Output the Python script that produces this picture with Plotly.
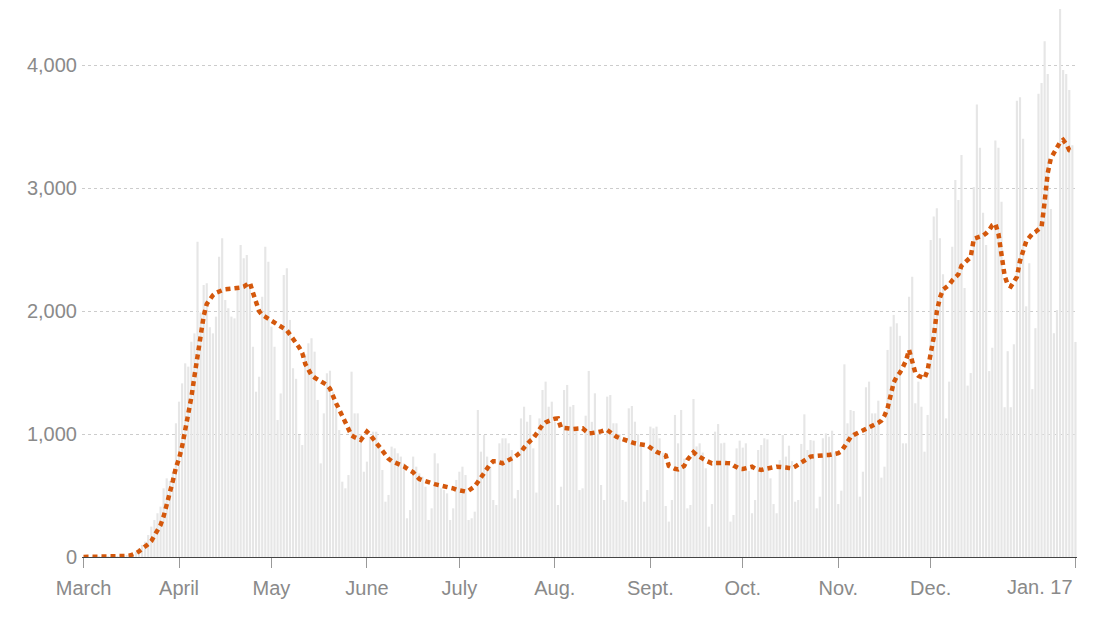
import pandas as pd
import plotly.graph_objects as go

# Daily values (bars), one list per month
mar = [0,1,0,1,2,1,3,3,4,4,6,8,10,8,10, 18,24,43,73,98,125,179,247,301,356,410,559,640,620,694,1088]
apr = [1264,1413,1576,1549,1752,1820,2566,1990,2213,2227, 1870,1820,1956,2444,2594,2091,2024,1956,1942,2186,
       2539,2431,2458,2200,1711,1345,1467,2118,2525,2403]
may = [1875,1711,1115,1331,2295,2350,1929,1536,1450,993, 911,1650,1739,1780,1671,1278,762,1169,1495,1516,
       1345,1210,1033,613,559,667,1508,1169,1169,1000, 694]
jun = [776,979,1020,1020,920,708,450,505,898,884, 844,817,762,315,382,817,735,681,654,572,
       301,396,844,762,559,545,518,301,396,627]
jul = [694,735,667,301,315,369,1196,857,993,817, 735,464,423,925,966,966,925,871,477,545,
       1128,1223,1101,1156,884,524,1128,1359,1427,1223, 1264]
aug = [1100,423,572,1359,1400,1223,1237,1050,545,559, 1150,1514,1100,1332,1000,586,464,1305,1318,1088,
       1088,1000,464,450,1210,1229,1101,1000,898,450, 545]
sep = [1061,1047,1061,966,850,415,288,464,1156,925, 1196,800,396,423,1286,900,925,850,722,247,
       431,1020,1082,925,930,750,288,342,884,947]
octo = [890,925,700,356,464,871,911,966,957,640, 431,356,789,993,817,906,780,450,464,920,
        1161,871,952,947,396,491,966,1006,979,1028, 850]
nov = [431,540,1568,1088,1196,1188,1000,491,694,1381, 1427,1169,1169,1272,646,735,1685,1875,1970,1902,
       1800,925,925,2118,2281,1251,1427,1223,857,1156]
dec = [2580,2770,2838,2594,2300,1128,1427,2525,3068,2905, 3272,2189,1395,1497,3010,3682,3331,2802,2539,1513,
       1703,3389,3331,2891,1219,1675,1219,1731,3712,3741, 3404]
jan = [2040,2390,1366,1862,3770,3858,4196,3931,2832,1821, 2010,4460,3963,3931,3800,3350,1750]

# 7-day average (dotted line)
mar_avg = [0,0,0,1,1,1,2,2,3,3,4,5,6,7,9, 12,18,30,45,62,85,105,130,170,210,260,330,420,520,620,730]
apr_avg = [800,900,1020,1160,1300,1470,1630,1800,1960,2060, 2100,2130,2150,2165,2170,2178,2180,2180,2180,2185,
           2192,2200,2215,2232,2150,2060,2000,1970,1955,1940]
may_avg = [1925,1910,1896,1880,1862,1845,1810,1780,1740,1705, 1660,1570,1520,1480,1460,1445,1427,1415,1400,1370,
           1300,1250,1200,1150,1080,1030,990,975,960,952, 985]
jun_avg = [1020,995,960,925,895,860,830,800,780,770, 760,750,738,720,705,690,660,635,625,615,
           608,600,593,587,582,578,572,567,558,548]
jul_avg = [540,536,533,540,556,575,610,648,690,725, 755,780,780,770,763,775,788,795,815,835,
           855,890,920,945,965,1000,1047,1075,1095,1109, 1118]
aug_avg = [1125,1128,1052,1048,1045,1043,1042,1044,1046,1047, 1025,1006,1008,1011,1014,1022,1030,1033,1015,995,
           979,968,958,952,945,935,925,920,915,912, 909]
sep_avg = [890,870,857,845,835,827,741,725,718,713, 725,741,790,817,852,830,810,800,785,770,
           762,765,768,768,766,764,762,745,728,718]
oct_avg = [716,722,730,735,720,710,708,715,722,730, 733,735,733,735,728,725,722,735,752,768,
           790,805,817,820,824,827,828,829,830,835, 842]
nov_avg = [845,860,900,950,975,993,1005,1015,1025,1040, 1052,1065,1080,1093,1110,1150,1210,1330,1420,1470,
           1500,1545,1600,1685,1576,1500,1475,1462,1454,1520]
dec_avg = [1670,1790,2000,2110,2175,2195,2215,2250,2281,2300, 2370,2395,2410,2440,2590,2598,2598,2615,2635,2660,
           2700,2712,2630,2450,2290,2215,2201,2240,2280,2410, 2500]
jan_avg = [2568,2600,2630,2645,2665,2686,2891,3125,3243,3290, 3340,3375,3394,3360,3310,3300]

tick_dates = ["2020-03-01","2020-04-01","2020-05-01","2020-06-01","2020-07-01","2020-08-01",
              "2020-09-01","2020-10-01","2020-11-01","2020-12-01","2021-01-17"]
tick_text = ["March","April","May","June","July","Aug.","Sept.","Oct.","Nov.","Dec.","Jan. 17"]
y_ticks = [0, 1000, 2000, 3000, 4000]

daily = mar + apr + may + jun + jul + aug + sep + octo + nov + dec + jan
avg = mar_avg + apr_avg + may_avg + jun_avg + jul_avg + aug_avg + sep_avg + oct_avg + nov_avg + dec_avg + jan_avg
dates = pd.date_range("2020-03-01", periods=len(daily), freq="D")

fig = go.Figure()
fig.add_trace(go.Bar(x=dates, y=daily, marker=dict(color="#e6e6e6", line=dict(width=0)),
                     hoverinfo="skip"))
fig.add_trace(go.Scatter(x=dates[:len(avg)], y=avg, mode="lines",
                         line=dict(color="#d4580c", width=4.5, dash="5px,4px"),
                         hoverinfo="skip"))

font_family = "Liberation Sans, Arial, sans-serif"
label_color = "#8a8a8a"
# last tick label is right-aligned to its tick, so it is drawn as an annotation
shown_text = tick_text[:-1] + [""]
fig.add_annotation(x=tick_dates[-1], y=0, xref="x", yref="paper",
                   text=tick_text[-1], showarrow=False, xanchor="right", yanchor="middle",
                   yshift=-30, font=dict(size=20, color=label_color, family=font_family))

fig.update_layout(
    width=1110, height=625,
    margin=dict(l=81.5, r=32.5, t=5, b=68),
    paper_bgcolor="white", plot_bgcolor="white",
    showlegend=False, bargap=0.3,
    font=dict(family=font_family, size=20, color=label_color),
)
fig.update_xaxes(
    range=["2020-02-29 12:00", "2021-01-17 12:00"],
    tickvals=tick_dates, ticktext=shown_text,
    showgrid=False, showline=True, linecolor="#444444", linewidth=1,
    ticks="outside", ticklen=10, tickcolor="#999999", tickwidth=1,
    ticklabelstandoff=3,
    tickfont=dict(size=20, color=label_color, family=font_family),
    zeroline=False,
)
fig.update_yaxes(
    range=[0, 4492],
    tickvals=y_ticks, tickformat=",",
    showgrid=True, gridcolor="#cccccc", gridwidth=1, griddash="dot",
    zeroline=False, showline=False, ticks="",
    ticklabelstandoff=4,
    tickfont=dict(size=20, color=label_color, family=font_family),
)

fig.write_html("out.html")
